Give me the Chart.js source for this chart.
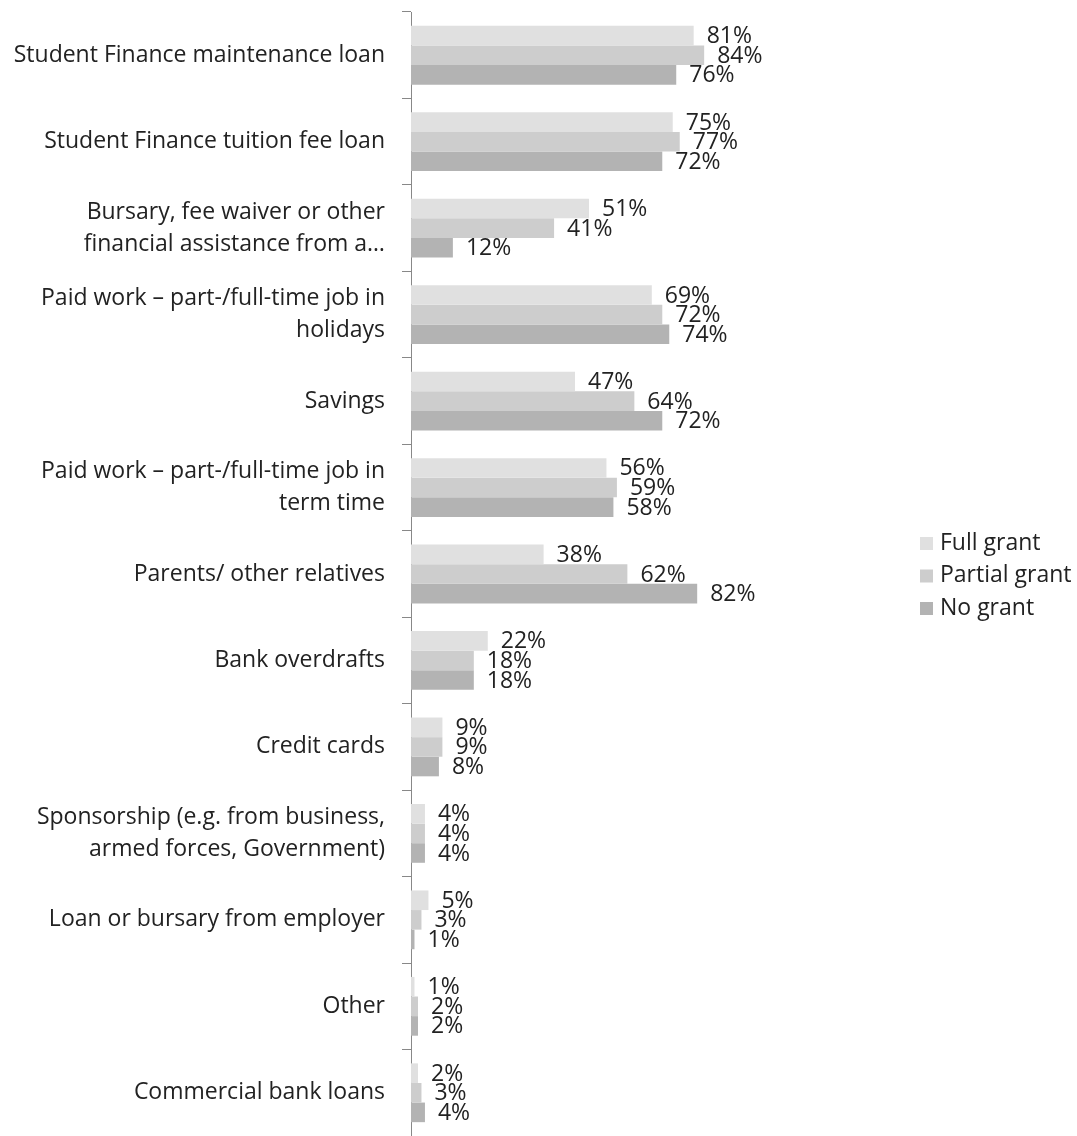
<!DOCTYPE html>
<html>
<head>
<meta charset="utf-8">
<script src="https://cdn.jsdelivr.net/npm/chart.js@4/dist/chart.umd.min.js"></script>
<style>
  html, body { margin: 0; padding: 0; background: #fff; }
  #wrap { width: 1077px; height: 1136px; }
</style>
</head>
<body>
<div id="wrap"><canvas id="funding-chart"></canvas></div>
<script>
const categories = [
  'Student Finance maintenance loan',
  'Student Finance tuition fee loan',
  ['Bursary, fee waiver or other', 'financial assistance from a…'],
  ['Paid work – part-/full-time job in', 'holidays'],
  'Savings',
  ['Paid work – part-/full-time job in', 'term time'],
  'Parents/ other relatives',
  'Bank overdrafts',
  'Credit cards',
  ['Sponsorship (e.g. from business,', 'armed forces, Government)'],
  'Loan or bursary from employer',
  'Other',
  'Commercial bank loans'
];
const fullGrant    = [81, 75, 51, 69, 47, 56, 38, 22, 9, 4, 5, 1, 2];
const partialGrant = [84, 77, 41, 72, 64, 59, 62, 18, 9, 4, 3, 2, 3];
const noGrant      = [76, 72, 12, 74, 72, 58, 82, 18, 8, 4, 1, 2, 4];

const fontFamily = '"Open Sans", "Noto Sans", sans-serif';

// draws "81%" style labels just past the end of each bar
const barLabels = {
  id: 'barLabels',
  afterDatasetsDraw(chart) {
    const ctx = chart.ctx;
    ctx.save();
    ctx.font = '23px ' + fontFamily;
    ctx.fillStyle = '#222';
    ctx.textBaseline = 'middle';
    ctx.textAlign = 'left';
    chart.data.datasets.forEach((ds, i) => {
      chart.getDatasetMeta(i).data.forEach((bar, j) => {
        ctx.fillText(ds.data[j] + '%', bar.x + 13, bar.y + 1);
      });
    });
    ctx.restore();
  }
};

// simple legend to the right of the plot
const sideLegend = {
  id: 'sideLegend',
  afterDraw(chart) {
    const ctx = chart.ctx;
    ctx.save();
    ctx.font = '23px ' + fontFamily;
    ctx.textBaseline = 'middle';
    ctx.textAlign = 'left';
    chart.data.datasets.forEach((ds, i) => {
      const y = 543 + i * 32.5;
      ctx.fillStyle = ds.backgroundColor;
      ctx.fillRect(920, y - 6, 13, 13);
      ctx.fillStyle = '#222';
      ctx.fillText(ds.label, 940, y);
    });
    ctx.restore();
  }
};

let ctx = document.getElementById('funding-chart').getContext('2d');
let fundingChart = new Chart(ctx, {
  type: 'bar',
  data: {
    labels: categories,
    datasets: [
      { label: 'Full grant', data: fullGrant, backgroundColor: '#e0e0e0' },
      { label: 'Partial grant', data: partialGrant, backgroundColor: '#cdcdcd' },
      { label: 'No grant', data: noGrant, backgroundColor: '#b3b3b3' }
    ]
  },
  options: {
    indexAxis: 'y',
    responsive: true,
    maintainAspectRatio: false,
    animation: false,
    datasets: {
      bar: { categoryPercentage: 0.68, barPercentage: 1.0 }
    },
    layout: { padding: { top: 12, bottom: 0, left: 0, right: 317 } },
    plugins: {
      legend: { display: false },
      tooltip: { enabled: false }
    },
    scales: {
      x: {
        display: false,
        min: 0,
        max: 100
      },
      y: {
        afterFit(scale) {
          scale.width = 411;
          scale.paddingTop = 0;
          scale.paddingBottom = 0;
        },
        grid: {
          display: true,
          drawOnChartArea: false,
          tickLength: 9,
          color: '#888'
        },
        border: { color: '#888' },
        ticks: {
          color: '#222',
          padding: 17,
          font: { family: fontFamily, size: 23, lineHeight: 1.4 }
        }
      }
    }
  },
  plugins: [barLabels, sideLegend]
});
</script>
</body>
</html>
